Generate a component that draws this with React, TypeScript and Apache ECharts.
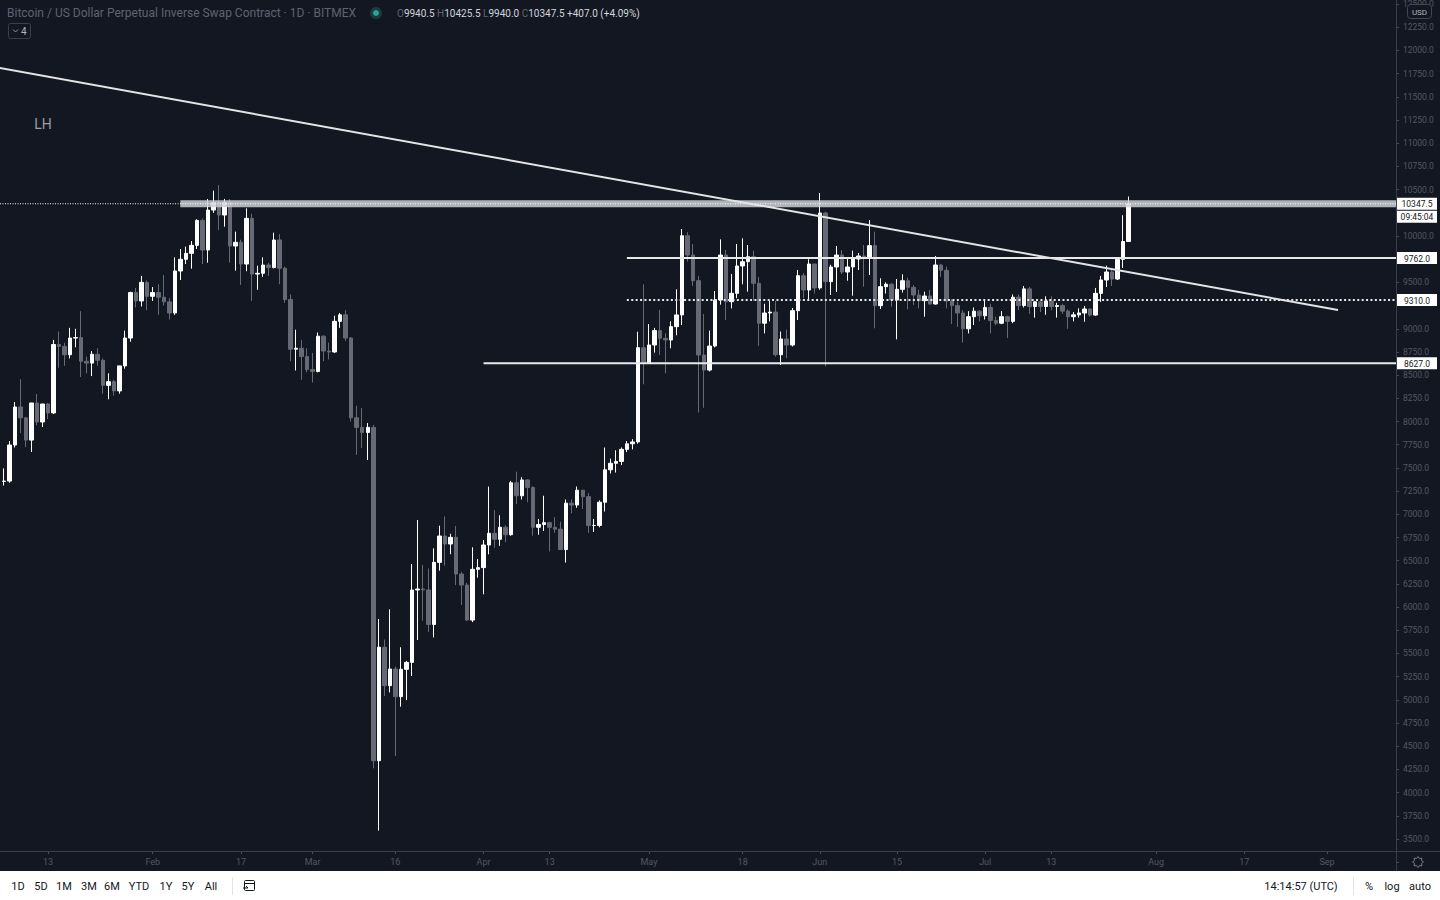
import React, { useEffect, useRef } from 'react';
import * as echarts from 'echarts';

// ---------- axis / categories ----------
const START_DATE = '2020-01-04';
const DAY_COUNT = 254;
const FIRST_CANDLE = '2020-01-05';
const Y_MIN = 3250;
const Y_MAX = 12750;
const Y_STEP = 250;

const xTickDates = ['2020-01-13', '2020-02-01', '2020-02-17', '2020-03-01', '2020-03-16', '2020-04-01', '2020-04-13', '2020-05-01', '2020-05-18', '2020-06-01', '2020-06-15', '2020-07-01', '2020-07-13', '2020-08-01', '2020-08-17', '2020-09-01'];
const xTickLabels = ['13', 'Feb', '17', 'Mar', '16', 'Apr', '13', 'May', '18', 'Jun', '15', 'Jul', '13', 'Aug', '17', 'Sep'];

// ---------- daily OHLC, 2020-01-05 .. 2020-07-27 ----------
const opens = [
  7355, 7358, 7747, 8157, 8040, 7800, 8200, 7995, 8189, 8093, 8830, 8810, 8720, 8900, 8905, 8650, 8630, 8725, 8660, 8390, 8430, 8330, 8600, 8900, 9390, 9300, 9500,
  9350, 9390, 9340, 9290, 9170, 9623, 9749, 9813, 9899, 10168, 9849, 10280, 10361, 10226, 10361, 9892, 9932, 9698, 10190, 9590, 9598, 9687, 9660, 9957, 9652, 9315, 8780, 8790, 8700,
  8560, 8540, 8920, 8760, 8750, 9080, 9150, 8900, 8040, 7937, 7883, 7937, 4344, 5567, 5153, 5332, 5034, 5329, 5404, 6184, 6195, 6185, 5813, 6482, 6766, 6680, 6752, 6356, 6237, 5860, 6407,
  6425, 6669, 6795, 6731, 6860, 6780, 7340, 7200, 7370, 7290, 6860, 6890, 6910, 6860, 6840, 6620, 7120, 7100, 7260, 7190, 6880, 6880, 7130, 7480, 7550, 7570, 7700, 7760, 7780, 8796,
  8627, 8825, 8980, 8897, 8879, 9023, 9149, 10003, 9795, 9518, 8717, 8555, 8814, 9310, 9795, 9292, 9382, 9677, 9723, 9777, 9490, 9060, 9170, 9180, 8720, 8890, 8825, 9195, 9572, 9418, 9698,
  9440, 10248, 9508, 9666, 9795, 9612, 9666, 9752, 9784, 9759, 9896, 9249, 9454, 9480, 9310, 9425, 9518, 9447, 9364, 9303, 9353, 9267, 9687, 9630, 9300, 9250, 9170, 9000, 9130, 9190,
  9140, 9230, 9090, 9060, 9130, 9080, 9340, 9250, 9430, 9240, 9290, 9240, 9300, 9240, 9250, 9190, 9130, 9150, 9170, 9213, 9148, 9382, 9526, 9612, 9536, 9748, 9940.5,
];
const highs = [
  7495, 7790, 8210, 8455, 8050, 8200, 8297, 8190, 8200, 8880, 8970, 8850, 9010, 9000, 9190, 8700, 8760, 8790, 8680, 8520, 8450, 8600, 8980, 9400, 9440, 9570, 9520,
  9450, 9480, 9580, 9330, 9770, 9860, 9885, 9946, 10180, 10190, 10399, 10489, 10550, 10400, 10400, 10047, 9960, 10298, 10240, 9680, 9770, 9710, 10036, 10020, 9670, 9370, 8990, 8880, 8790,
  8740, 8960, 8930, 8850, 9140, 9170, 9200, 8910, 8170, 8146, 7984, 7963, 5871, 5650, 5976, 5360, 5567, 5420, 6464, 6939, 6453, 6416, 6633, 6877, 6977, 6790, 6874, 6380, 6260, 6644, 6518,
  6723, 7299, 7046, 6990, 6880, 7360, 7460, 7400, 7380, 7300, 6950, 7200, 6920, 6970, 6920, 7160, 7160, 7300, 7260, 7230, 6950, 7150, 7720, 7600, 7690, 7720, 7790, 7810, 8968, 9479,
  9051, 9010, 9203, 8950, 9080, 9425, 10075, 10040, 9914, 9570, 9159, 8980, 9407, 9964, 9849, 9590, 9914, 9975, 9903, 9842, 9560, 9270, 9300, 9300, 8970, 8990, 9224, 9633, 9600, 9750, 9700,
  10463, 10260, 9690, 9892, 9849, 9752, 9842, 9817, 9903, 10172, 10047, 9544, 9500, 9490, 9536, 9587, 9550, 9470, 9420, 9400, 9420, 9784, 9700, 9670, 9320, 9290, 9200, 9190, 9230, 9200,
  9300, 9270, 9130, 9190, 9140, 9370, 9370, 9460, 9450, 9300, 9300, 9350, 9350, 9280, 9270, 9210, 9180, 9220, 9245, 9220, 9440, 9570, 9680, 9640, 9752, 10224, 10425.5,
];
const lows = [
  7310, 7340, 7720, 7876, 7725, 7672, 7960, 7941, 8027, 8080, 8580, 8600, 8680, 8800, 8480, 8520, 8490, 8600, 8300, 8240, 8280, 8300, 8570, 8860, 9230, 9240, 9200,
  9300, 9150, 9250, 9100, 9150, 9526, 9698, 9648, 9860, 9698, 9712, 10250, 10065, 10100, 9712, 9626, 9472, 9620, 9300, 9420, 9560, 9570, 9650, 9480, 9280, 8650, 8550, 8450, 8530,
  8420, 8530, 8650, 8670, 8740, 9010, 8870, 8000, 7640, 7715, 7585, 4262, 3590, 5041, 5081, 4394, 4926, 4998, 5257, 5645, 5853, 5734, 5673, 6392, 6446, 6570, 6237, 6022, 5850, 5838, 6317,
  6138, 6569, 6640, 6660, 6700, 6770, 7110, 7160, 7130, 6770, 6780, 6820, 6600, 6800, 6620, 6480, 7010, 7070, 7060, 6800, 6810, 6860, 7030, 7440, 7450, 7530, 7670, 7700, 7760, 8401,
  8620, 8743, 8718, 8520, 8790, 8930, 9040, 9723, 9460, 8098, 8148, 8540, 8800, 9260, 9094, 9220, 9330, 9480, 9400, 9300, 8815, 8950, 9080, 8700, 8610, 8685, 8810, 9094, 9330, 9321, 9380,
  9420, 8593, 9364, 9396, 9590, 9518, 9357, 9633, 9454, 9580, 9005, 9213, 9380, 9240, 8886, 9390, 9209, 9256, 9220, 9130, 9260, 9260, 9560, 9220, 9050, 9020, 8850, 8950, 9040, 9080,
  9100, 8950, 9040, 9050, 8900, 9060, 9200, 9230, 9160, 9120, 9180, 9150, 9200, 9120, 9160, 9000, 9080, 9120, 9076, 9130, 9140, 9288, 9450, 9461, 9526, 9655, 9940,
];
const closes = [
  7358, 7747, 8157, 8040, 7800, 8200, 7995, 8189, 8093, 8830, 8810, 8720, 8900, 8905, 8650, 8630, 8725, 8660, 8390, 8430, 8330, 8600, 8900, 9390, 9300, 9500, 9350,
  9390, 9340, 9290, 9170, 9623, 9749, 9813, 9899, 10168, 9849, 10280, 10361, 10226, 10361, 9892, 9932, 9698, 10190, 9590, 9598, 9687, 9660, 9957, 9652, 9315, 8780, 8790, 8700, 8560,
  8540, 8920, 8760, 8750, 9080, 9150, 8900, 8040, 7937, 7883, 7937, 4344, 5567, 5153, 5332, 5034, 5329, 5404, 6184, 6195, 6185, 5813, 6482, 6766, 6680, 6752, 6356, 6237, 5860, 6407, 6425,
  6669, 6795, 6731, 6860, 6780, 7340, 7200, 7370, 7290, 6860, 6890, 6910, 6860, 6840, 6620, 7120, 7100, 7260, 7190, 6880, 6880, 7130, 7480, 7550, 7570, 7700, 7760, 7780, 8796, 8627,
  8825, 8980, 8897, 8879, 9023, 9149, 10003, 9795, 9518, 8717, 8555, 8814, 9310, 9795, 9292, 9382, 9677, 9723, 9777, 9490, 9060, 9170, 9180, 8720, 8890, 8825, 9195, 9572, 9418, 9698, 9440,
  10248, 9508, 9666, 9795, 9612, 9666, 9752, 9784, 9759, 9896, 9249, 9454, 9480, 9310, 9425, 9518, 9447, 9364, 9303, 9353, 9267, 9687, 9630, 9300, 9250, 9170, 9000, 9130, 9190, 9140,
  9230, 9090, 9060, 9130, 9080, 9340, 9250, 9430, 9240, 9290, 9240, 9300, 9240, 9250, 9190, 9130, 9150, 9170, 9213, 9148, 9382, 9526, 9612, 9536, 9748, 9940.5, 10347.5,
];

// ---------- drawings ----------
const resistanceBand = { from: '2020-02-06', low: 10310, high: 10385 };
const levelDates = ['2020-04-01', '2020-04-27', '2020-04-27'];
const levelPrices = [8627, 9762, 9310];
const levelDotted = [false, false, true];
const trendDates = ['2020-01-04', '2020-09-03'];
const trendPrices = [11814, 9202];
const countdownText = '09:45:04';
const symbolTitle = 'Bitcoin / US Dollar Perpetual Inverse Swap Contract · 1D · BITMEX';
const rangeButtons = ['1D', '5D', '1M', '3M', '6M', 'YTD', '1Y', '5Y', 'All'];
const clockText = '14:14:57 (UTC)';
const scaleButtons = ['%', 'log', 'auto'];
const noteText = 'LH';

// ---------- layout / style constants ----------
const W = 1440;
const H = 900;
const BAND = 5.513;
const GRID_LEFT = 48 - 9 * BAND - BAND / 2;
const GRID_W = DAY_COUNT * BAND;
const AXIS_X = 1396;
const PX_PER_UNIT = 603 / 6500;
const GRID_TOP = 236 - (Y_MAX - 10000) * PX_PER_UNIT;
const GRID_H = (Y_MAX - Y_MIN) * PX_PER_UNIT;
const BG = '#131722';
const UP = '#ffffff';
const DOWN = '#676a74';
const AXIS_LINE = '#3a3e4a';
const AXIS_TEXT = '#535763';
const FONT = 'Roboto, "Noto Sans", sans-serif';

function addDays(start: string, n: number): string {
  const d = new Date(start + 'T00:00:00Z');
  d.setUTCDate(d.getUTCDate() + n);
  return d.toISOString().slice(0, 10);
}

const categories = Array.from({ length: DAY_COUNT }, (_, i) => addDays(START_DATE, i));
const firstIdx = categories.indexOf(FIRST_CANDLE);
const candleData: any[] = [];
for (let i = 0; i < firstIdx; i++) candleData.push('-');
for (let k = 0; k < opens.length; k++) candleData.push([opens[k], closes[k], lows[k], highs[k]]);

const labelByDate: Record<string, string> = {};
xTickDates.forEach((d, i) => { labelByDate[d] = xTickLabels[i]; });
const showTick = (index: number) => labelByDate[categories[index]] !== undefined;

const lastClose = closes[closes.length - 1];
// prices whose axis boxes hide the regular tick labels beside them
const boxPrices = [lastClose, lastClose - 13 / PX_PER_UNIT, ...levelPrices];
const hiddenByBox = (v: number) => boxPrices.some((p) => Math.abs(v - p) * PX_PER_UNIT < 9.5);

function txt(x: number, y: number, text: string, fill: string, size: number, align = 'left', extra: any = {}) {
  return {
    type: 'text', x, y, z: 20, silent: true,
    style: {
      text, fill, fontSize: size, fontFamily: FONT,
      align, textAlign: align, verticalAlign: 'middle', textVerticalAlign: 'middle', ...extra,
    },
  };
}

function buildGraphics(chart: any): any[] {
  const toPx = (date: string, v: number) => chart.convertToPixel({ seriesIndex: 0 }, [categories.indexOf(date), v]) as number[];
  const py = (v: number) => toPx(categories[0], v)[1];
  const els: any[] = [];

  // resistance band
  const b0 = toPx(resistanceBand.from, resistanceBand.high);
  const bLow = py(resistanceBand.low);
  els.push({ type: 'rect', z: 6, silent: true, shape: { x: b0[0], y: b0[1], width: AXIS_X - b0[0], height: bLow - b0[1] }, style: { fill: 'rgba(205,207,212,0.85)' } });

  // last price dotted line
  const yl = py(lastClose);
  els.push({ type: 'line', z: 7, silent: true, shape: { x1: 0, y1: yl, x2: AXIS_X, y2: yl }, style: { stroke: '#ffffff', lineWidth: 1, lineDash: [1, 1.5] } });

  // horizontal levels
  levelPrices.forEach((p, i) => {
    const a = toPx(levelDates[i], p);
    els.push({
      type: 'line', z: 7, silent: true,
      shape: { x1: a[0], y1: a[1], x2: AXIS_X, y2: a[1] },
      style: { stroke: '#e9e9ea', lineWidth: 2, lineDash: levelDotted[i] ? [2, 2.4] : null },
    });
  });

  // trend line
  const t0 = toPx(trendDates[0], trendPrices[0]);
  const t1 = toPx(trendDates[1], trendPrices[1]);
  els.push({ type: 'line', z: 7, silent: true, shape: { x1: t0[0], y1: t0[1], x2: t1[0], y2: t1[1] }, style: { stroke: '#e4e4e6', lineWidth: 2 } });

  // axis frame lines
  els.push({ type: 'line', z: 8, silent: true, shape: { x1: AXIS_X + 0.5, y1: 0, x2: AXIS_X + 0.5, y2: 871 }, style: { stroke: AXIS_LINE, lineWidth: 1 } });
  els.push({ type: 'line', z: 8, silent: true, shape: { x1: 0, y1: 851.5, x2: W, y2: 851.5 }, style: { stroke: AXIS_LINE, lineWidth: 1 } });

  // price boxes on the axis
  const box = (y: number, text: string) => {
    els.push({ type: 'rect', z: 19, silent: true, shape: { x: AXIS_X + 1, y: y - 6, width: 40, height: 12 }, style: { fill: '#ffffff' } });
    els.push(txt(AXIS_X + 21, y + 0.5, text, '#131722', 8.5, 'center'));
  };
  box(yl, lastClose.toFixed(1));
  box(yl + 13, countdownText);
  levelPrices.forEach((p) => box(py(p), p.toFixed(1)));

  // top-left legend
  els.push(txt(7, 13, symbolTitle, '#5f6370', 12));
  els.push({ type: 'circle', z: 20, silent: true, shape: { cx: 376, cy: 13, r: 6 }, style: { fill: '#1d3a3d' } });
  els.push({ type: 'circle', z: 21, silent: true, shape: { cx: 376, cy: 13, r: 3 }, style: { fill: '#26a69a' } });
  const n = closes.length - 1;
  const chg = closes[n] - closes[n - 1];
  const pct = (chg / closes[n - 1]) * 100;
  const sign = chg >= 0 ? '+' : '';
  els.push({
    type: 'text', x: 397, y: 13, z: 20, silent: true,
    style: {
      text: `{k|O}{v|${opens[n].toFixed(1)}} {k|H}{v|${highs[n].toFixed(1)}} {k|L}{v|${lows[n].toFixed(1)}} {k|C}{v|${closes[n].toFixed(1)}} {v|${sign}${chg.toFixed(1)} (${sign}${pct.toFixed(2)}%)}`,
      fontFamily: FONT, fontSize: 10, verticalAlign: 'middle', textVerticalAlign: 'middle',
      rich: {
        k: { fill: '#5f6370', fontSize: 10, fontFamily: FONT },
        v: { fill: '#d1d4dc', fontSize: 10, fontFamily: FONT },
      },
    },
  });
  // collapse button
  els.push({ type: 'rect', z: 20, silent: true, shape: { x: 8.5, y: 23.5, width: 22, height: 15, r: 2 }, style: { fill: 'none', stroke: '#3a3e4a', lineWidth: 1 } });
  els.push({ type: 'polyline', z: 21, silent: true, shape: { points: [[13, 29.5], [15.5, 32], [18, 29.5]] }, style: { fill: 'none', stroke: '#9598a1', lineWidth: 1 } });
  els.push(txt(21, 31, '4', '#b2b5be', 10));
  // USD box
  els.push({ type: 'rect', z: 20, silent: true, shape: { x: 1407.5, y: 4.5, width: 24, height: 14, r: 3 }, style: { fill: BG, stroke: '#434651', lineWidth: 1 } });
  els.push(txt(1419.5, 12, 'USD', '#b2b5be', 8, 'center'));
  // LH note
  els.push(txt(43, 124, noteText, '#9a9da6', 14, 'center'));
  // gear icon
  const gear: number[][] = [];
  for (let i = 0; i < 16; i++) {
    const a = (Math.PI * 2 * i) / 16;
    const r = i % 2 === 0 ? 5.5 : 3.8;
    gear.push([1418 + r * Math.cos(a), 862 + r * Math.sin(a)]);
  }
  els.push({ type: 'polygon', z: 20, silent: true, shape: { points: gear }, style: { fill: 'none', stroke: '#787b86', lineWidth: 1 } });

  // bottom toolbar
  els.push({ type: 'rect', z: 18, silent: true, shape: { x: 0, y: 871, width: W, height: H - 871 }, style: { fill: '#ffffff' } });
  const btnX = [18, 41, 64, 89, 112, 139, 166, 188, 211];
  rangeButtons.forEach((t, i) => els.push(txt(btnX[i], 886, t, '#131722', 11, 'center')));
  els.push({ type: 'line', z: 20, silent: true, shape: { x1: 232.5, y1: 877, x2: 232.5, y2: 895 }, style: { stroke: '#e0e3eb', lineWidth: 1 } });
  els.push({ type: 'rect', z: 20, silent: true, shape: { x: 244.5, y: 880.5, width: 10, height: 10, r: 1 }, style: { fill: 'none', stroke: '#131722', lineWidth: 1 } });
  els.push({ type: 'line', z: 20, silent: true, shape: { x1: 244.5, y1: 883.5, x2: 254.5, y2: 883.5 }, style: { stroke: '#131722', lineWidth: 1 } });
  els.push({ type: 'polyline', z: 20, silent: true, shape: { points: [[243, 888], [248, 888], [246, 886]] }, style: { fill: 'none', stroke: '#131722', lineWidth: 1 } });
  els.push(txt(1301, 886, clockText, '#131722', 11, 'center'));
  els.push({ type: 'line', z: 20, silent: true, shape: { x1: 1353.5, y1: 877, x2: 1353.5, y2: 895 }, style: { stroke: '#e0e3eb', lineWidth: 1 } });
  const sX = [1369, 1392, 1420];
  scaleButtons.forEach((t, i) => els.push(txt(sX[i], 886, t, '#131722', 11, 'center')));

  return els;
}

export default function App() {
  const ref = useRef<HTMLDivElement>(null);
  useEffect(() => {
    const chart = echarts.init(ref.current!, null, { renderer: 'svg' });
    chart.setOption({
      animation: false,
      backgroundColor: BG,
      grid: [
        { left: GRID_LEFT, width: GRID_W, top: GRID_TOP, height: GRID_H, containLabel: false, outerBoundsMode: 'none' },
        { left: GRID_LEFT, width: GRID_W, top: 846, height: 5, containLabel: false, outerBoundsMode: 'none' },
      ],
      xAxis: [
        { type: 'category', gridIndex: 0, data: categories, show: false, boundaryGap: true },
        {
          type: 'category', gridIndex: 1, data: categories, position: 'bottom', boundaryGap: true,
          axisLine: { show: false },
          axisTick: { show: true, alignWithLabel: true, length: 3, interval: (i: number) => showTick(i), lineStyle: { color: '#4a4e5a' } },
          axisLabel: {
            interval: (i: number) => showTick(i), formatter: (v: string) => labelByDate[v] || '',
            color: AXIS_TEXT, fontSize: 9, fontFamily: FONT, margin: 6,
          },
          splitLine: { show: false },
        },
      ],
      yAxis: [
        {
          type: 'value', gridIndex: 0, position: 'right', min: Y_MIN, max: Y_MAX, interval: Y_STEP,
          axisLine: { show: false },
          axisTick: { show: true, length: 3, lineStyle: { color: '#4a4e5a' } },
          axisLabel: {
            color: AXIS_TEXT, fontSize: 8.5, fontFamily: FONT, margin: 7,
            formatter: (v: number) => (v <= Y_MIN || v >= Y_MAX || hiddenByBox(v) ? '' : v.toFixed(1)),
          },
          splitLine: { show: false },
        },
        { type: 'value', gridIndex: 1, show: false },
      ],
      series: [
        {
          type: 'candlestick', xAxisIndex: 0, yAxisIndex: 0, data: candleData, barWidth: 4,
          itemStyle: { color: UP, color0: DOWN, borderColor: UP, borderColor0: DOWN, borderWidth: 1 },
        },
      ],
    });
    chart.setOption({ graphic: { elements: buildGraphics(chart) } });
    return () => chart.dispose();
  }, []);
  return <div ref={ref} style={{ position: 'fixed', left: 0, top: 0, width: W, height: H }} />;
}
